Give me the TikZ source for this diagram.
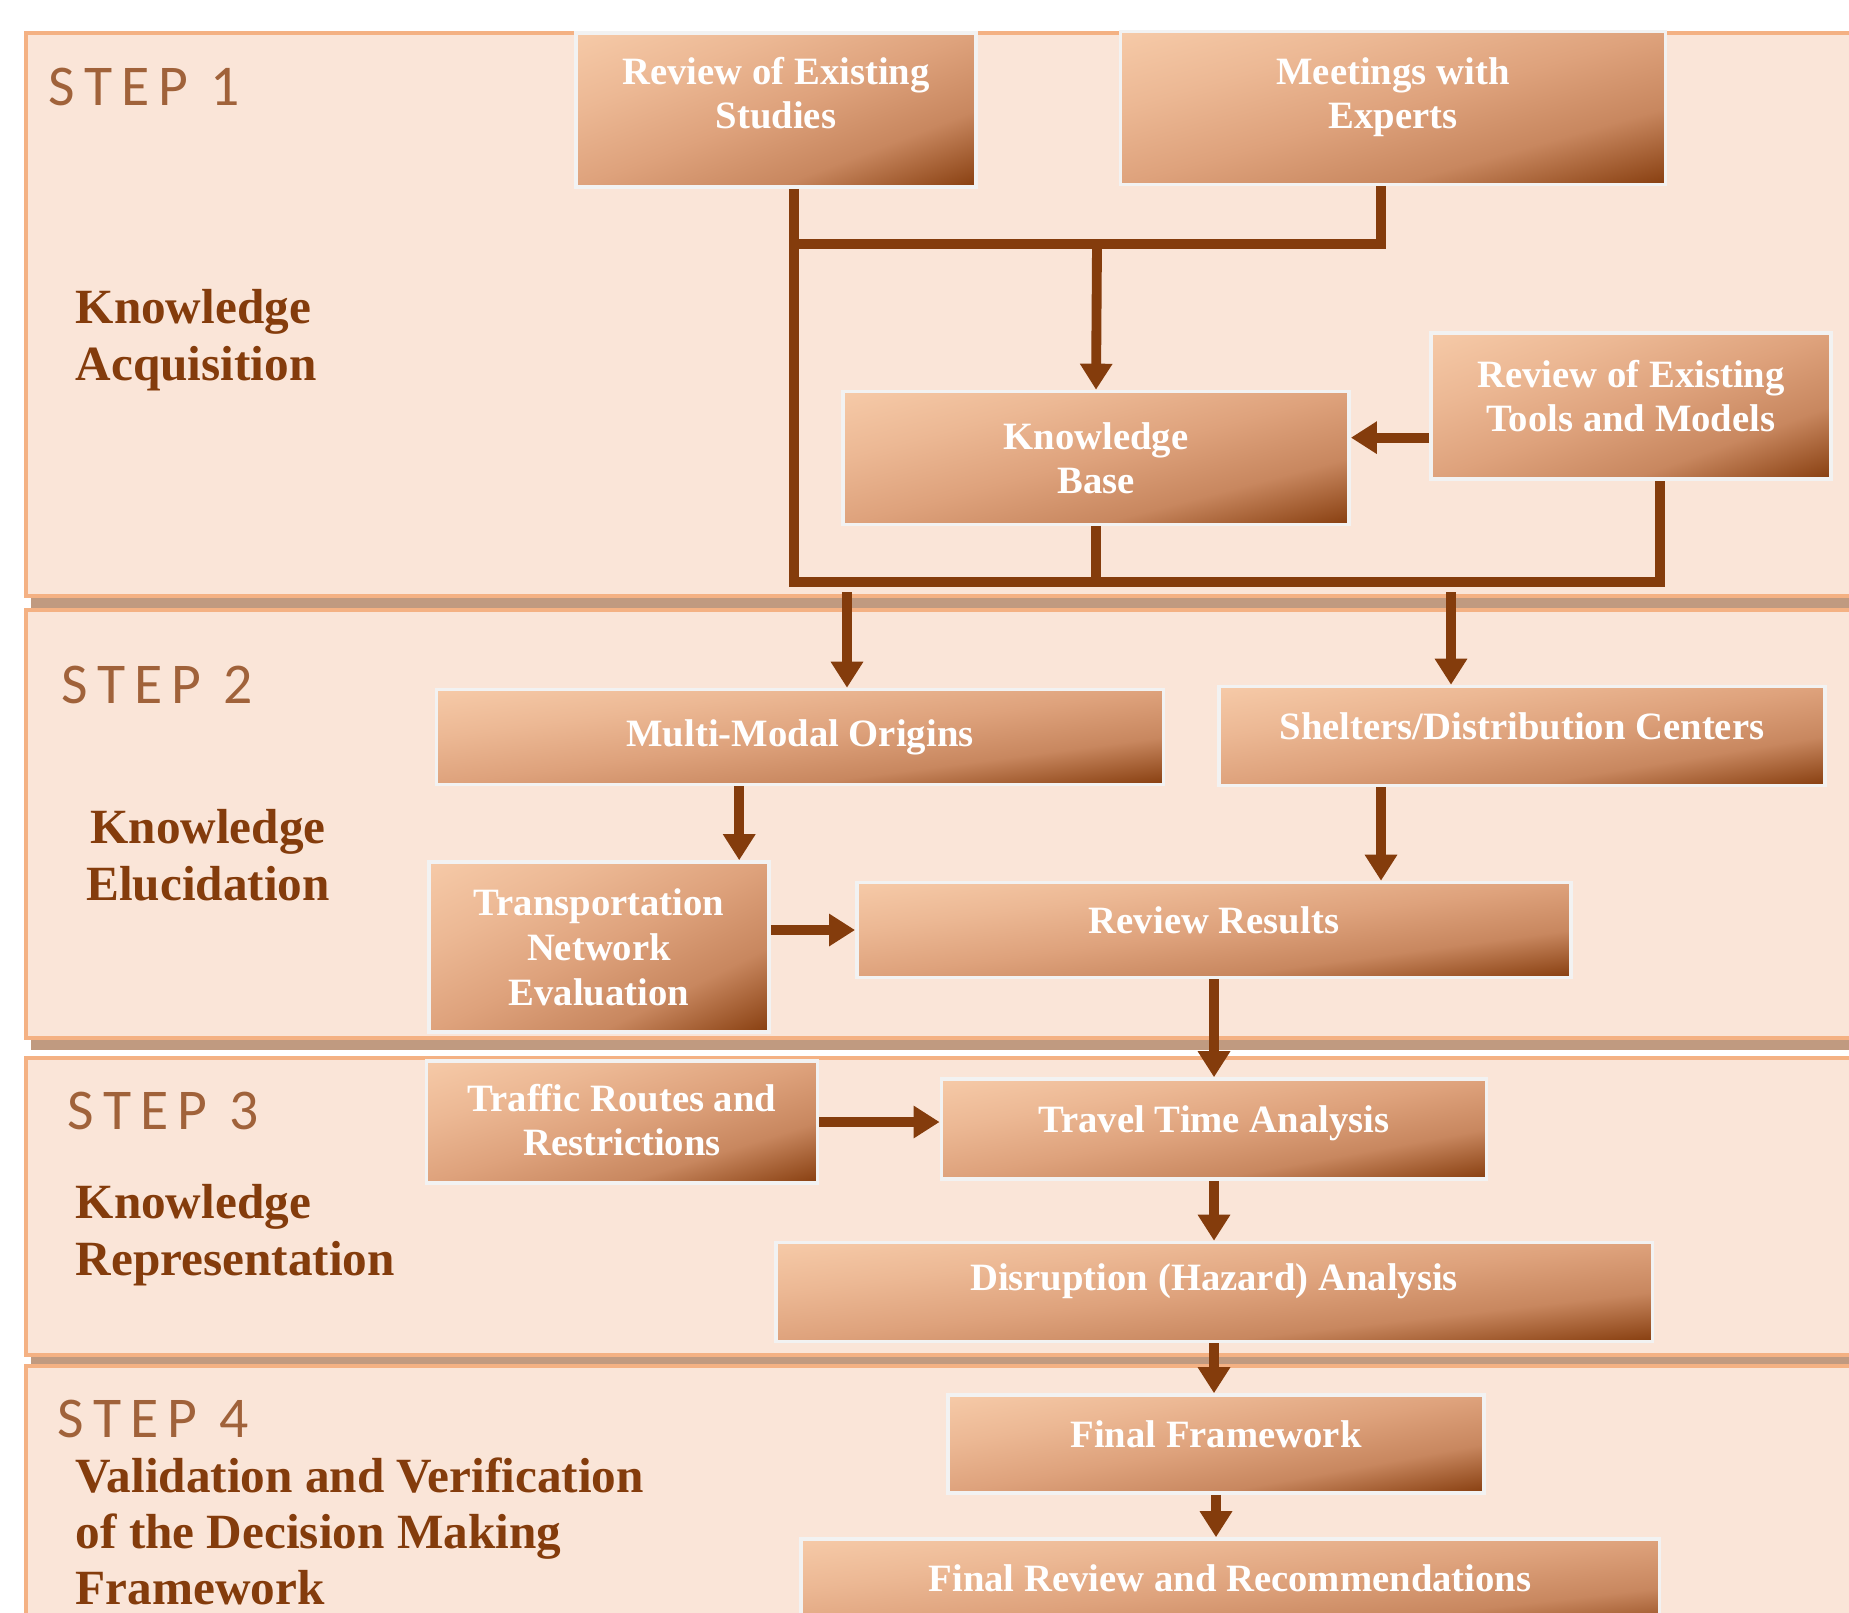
\documentclass[tikz,border=0pt]{standalone}
\usepackage{fontspec}
\setmainfont{Liberation Serif}
\newfontfamily\stepfont[LetterSpace=16]{Carlito}
\usepackage{xcolor}
\usetikzlibrary{arrows.meta}

\definecolor{panelfill}{HTML}{FAE5D8}
\definecolor{panelline}{HTML}{F4B183}
\definecolor{panelshadow}{HTML}{C09A80}
\definecolor{linebrown}{HTML}{843C0C}
\definecolor{stepbrown}{HTML}{A0623A}
\definecolor{boxedge}{HTML}{F2F2F2}
\definecolor{boxlight}{HTML}{F6CAA8}
\definecolor{boxsoft}{HTML}{ECB894}
\definecolor{boxmid}{HTML}{DEA27C}
\definecolor{boxdeep}{HTML}{C8875F}
\definecolor{boxdark}{HTML}{873E0F}

\pgfdeclarehorizontalshading{boxshade}{100bp}{color(0bp)=(boxlight); color(25bp)=(boxlight); color(37.5bp)=(boxsoft); color(50bp)=(boxmid); color(62.5bp)=(boxdeep); color(75bp)=(boxdark); color(100bp)=(boxdark)}

\begin{document}
\begin{tikzpicture}[x=0.01cm, y=-0.01cm,
    panel/.style={fill=panelfill, draw=panelline, line width=1.2pt},
    box/.style={rectangle, draw=boxedge, line width=1pt,
      text=white, align=center, inner sep=0pt,
      font=\fontsize{11}{12.7}\selectfont\bfseries},
    steplabel/.style={anchor=base west, inner sep=0pt, text=stepbrown,
      font=\stepfont\fontsize{16.4}{18}\selectfont},
    phase/.style={anchor=north west, inner sep=0pt, text=linebrown, align=left,
      font=\fontsize{14}{16}\selectfont\bfseries},
    flow/.style={draw=linebrown, line width=2.8pt},
    arrow/.style={flow, -{Triangle[length=7.4pt, width=8.8pt]}}]
        \useasboundingbox (0,0) rectangle (1849,1612);
        \clip (0,0) rectangle (1849,1612);

        % Step panels
        \foreach \ya/\yb in {33/596, 610/1038, 1058/1355, 1366/1640} {
            \fill[panelshadow] (31,\ya+12) rectangle (1880,\yb+12);
            \draw[panel] (26,\ya) rectangle (1880,\yb);
        }

        % Step titles
        \foreach \n/\x/\y in {1/48/105, 2/61/703, 3/67/1129, 4/57/1437}
            \node[steplabel] (step\n) at (\x,\y) {STEP \n};

        \node[phase] (acq) at (75,289) {Knowledge\\Acquisition};
        \node[phase, anchor=north, align=center] (elu) at (208,809) {Knowledge\\Elucidation};
        \node[phase] (rep) at (75,1184) {Knowledge\\Representation};
        \node[phase] (val) at (75,1457) {Validation and Verification\\of the Decision Making\\Framework};

        % Boxes: name/x/y/width/height/text depth/text
        \foreach \n/\x/\y/\w/\h/\d/\t in {
            rs/776/110/4/1.54/9.7/{Review of Existing\\Studies},
            me/1393/108/5.45/1.53/8.5/{Meetings with\\Experts},
            kb/1096/458/5.06/1.33/0/{Knowledge\\Base},
            tm/1631/406/4/1.46/5.7/{Review of Existing\\Tools and Models},
            mm/800/737/7.27/0.95/2.3/{Multi-Modal Origins},
            sh/1522/736/6.06/0.99/5.7/{Shelters/Distribution Centers},
            tn/599/947/3.4/1.7/0/{Transportation\\Network\\Evaluation},
            rr/1214/930/7.14/0.95/5.7/{Review Results},
            tr/622/1122/3.91/1.22/1.2/{Traffic Routes and\\Restrictions},
            tt/1214/1129/5.45/1/5.7/{Travel Time Analysis},
            dh/1214/1292/8.76/0.99/8.5/{Disruption (Hazard) Analysis},
            ff/1216/1444/5.36/0.98/5.7/{Final Framework},
            fr/1230/1588/8.58/0.98/5.7/{Final Review and Recommendations}} {
            % gradient: unit square stretched to the box, shaded along its diagonal
            \begin{scope}[transform canvas={shift={(\x,\y)}, xscale=\w, yscale=\h}]
                \clip (-0.5cm,-0.5cm) rectangle (0.5cm,0.5cm);
                \begin{scope}[transform canvas={rotate=-45}]
                    \shade[shading=boxshade] (-0.7072cm,-0.7072cm) rectangle (0.7072cm,0.7072cm);
                \end{scope}
            \end{scope}
            \node[box, minimum width=\w cm, minimum height=\h cm, text depth=\d pt] (\n) at (\x,\y) {\t};
        }

        % Buses of step 1
        \coordinate (busL) at (794,244);
        \coordinate (busR) at (1381,244);
        \coordinate (kbIn) at (1097,244);
        \coordinate (baseL) at (794,582);
        \coordinate (baseR) at (1660,582);
        \draw[flow] (rs.south -| busL) -- (baseL) -- (baseR) -- (tm.south -| baseR);
        \draw[flow] (me.south -| busR) -- (busR) -- (busL);
        \draw[arrow] (kbIn) -- (kb.north);
        \draw[flow] (kb.south) -- (kb.south |- baseL);
        \draw[arrow] ([yshift=-9pt]tm.west) -- ([yshift=-9pt]tm.west -| kb.east);

        % Into step 2
        \coordinate (dropL) at (847,592);
        \coordinate (dropR) at (1451,592);
        \coordinate (colA) at ([xshift=-9pt]tn.north east);
        \draw[arrow] (dropL) -- (dropL |- mm.north);
        \draw[arrow] (dropR) -- (dropR |- sh.north);
        \draw[arrow] (mm.south -| colA) -- (colA);
        \draw[arrow] (sh.south -| busR) -- (rr.north -| busR);
        \draw[arrow] (tn.east |- rr.west) -- (rr.west);
        \draw[arrow] (rr.south) -- (rr.south |- tt.north);

        % Steps 3 and 4
        \draw[arrow] (tr.east) -- (tr.east -| tt.west);
        \draw[arrow] (tt.south) -- (tt.south |- dh.north);
        \draw[arrow] (dh.south) -- (dh.south |- ff.north);
        \draw[arrow] (ff.south) -- (ff.south |- fr.north);
\end{tikzpicture}
\end{document}
